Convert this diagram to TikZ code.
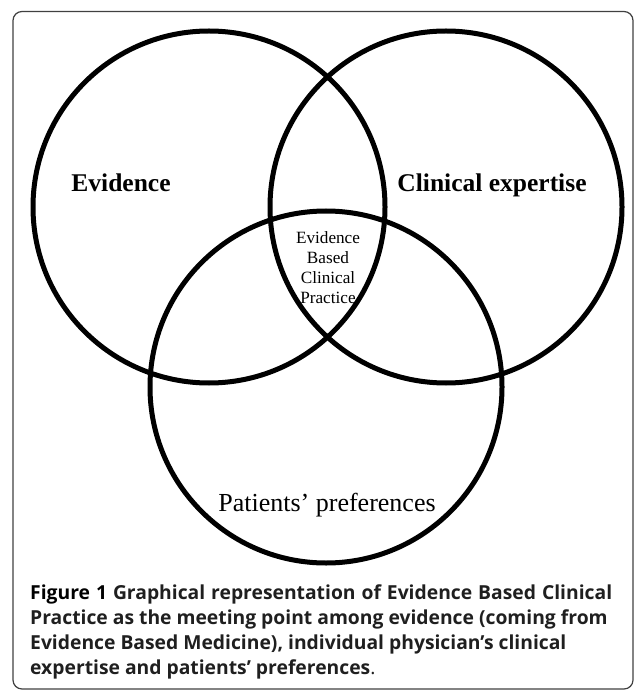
\documentclass[tikz,border=0pt]{standalone}
\usepackage{fontspec}
\setmainfont{Liberation Serif}
\newfontfamily\capfont{Open Sans}
\begin{document}
\begin{tikzpicture}[x=1pt,y=-1pt,
  ring/.style={draw=black,line width=5pt,circle,minimum size=352pt,inner sep=0pt},
  frame/.style={draw=black!75,line width=1.2pt,rounded corners=9pt},
  bigbold/.style={font=\fontsize{25.5}{28}\selectfont\bfseries,inner sep=0pt,anchor=base},
  midtext/.style={font=\fontsize{17.2}{20}\selectfont,align=center,inner sep=0pt},
  bigtext/.style={font=\fontsize{26}{28}\selectfont,inner sep=0pt,anchor=base},
  capline/.style={font=\capfont\bfseries\fontsize{19.3}{22}\selectfont,inner sep=0pt,anchor=base west,text=black!88}]
\useasboundingbox (0,0) rectangle (634,692);
\clip (0,0) rectangle (634,692);
\draw[frame] (13,11.5) rectangle (633,689);
\node[ring] (ev) at (209,207) {};
\node[ring] (ce) at (446,207) {};
\node[ring] (pp) at (326,387) {};
\node[bigbold] (evt) at (121,192) {Evidence};
\node[bigbold] (cet) at (492,192) {Clinical expertise};
\node[midtext] (ebcp) at (328,268) {Evidence\\Based\\Clinical\\Practice};
\node[bigtext] (ppt) at (327,511) {Patients’ preferences};
\node[capline] (c1) at (30,599) {\makebox[582pt][s]{{\color{black}Figure 1} Graphical representation of Evidence Based Clinical}};
\node[capline] (c2) at (30,624) {Practice as the meeting point among evidence (coming from};
\node[capline] (c3) at (30,649) {Evidence Based Medicine), individual physician’s clinical};
\node[capline] (c4) at (30,674) {expertise and patients’ preferences{\mdseries.}};
\end{tikzpicture}
\end{document}
